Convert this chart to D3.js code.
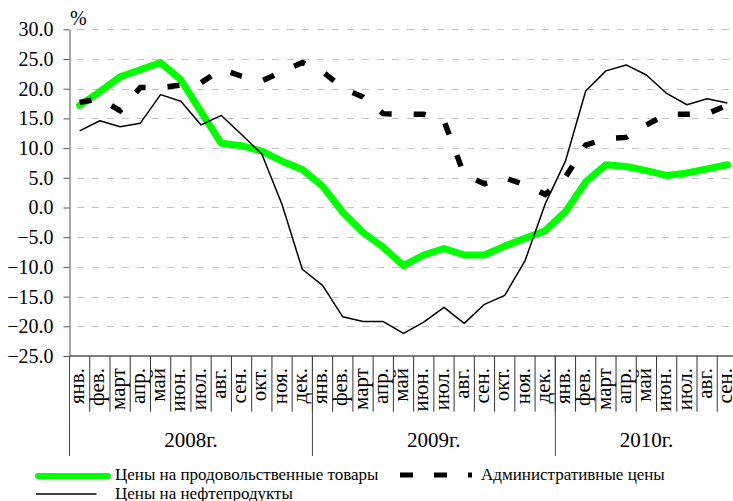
<!DOCTYPE html>
<html>
<head>
<meta charset="utf-8">
<script src="https://cdnjs.cloudflare.com/ajax/libs/d3/7.8.5/d3.min.js"></script>
<style>
	body { margin: 0; background: #fff; }
	svg { display: block; }
	svg text { font-family: "Liberation Serif", "Times New Roman", serif; }
</style>
</head>
<body>
<div id="chart"></div>
<script>
// месяцы янв.2008 - сен.2010
const monthLabels = [
	"янв.", "фев.", "март", "апр.", "май", "июн.", "июл.", "авг.", "сен.", "окт.", "ноя.", "дек.",
	"янв.", "фев.", "март", "апр.", "май", "июн.", "июл.", "авг.", "сен.", "окт.", "ноя.", "дек.",
	"янв.", "фев.", "март", "апр.", "май", "июн.", "июл.", "авг.", "сен."
];
const yearLabels = ["2008г.", "2009г.", "2010г."];
const yearMonths = [12, 12, 9];

const seriesNames = ["Цены на продовольственные товары", "Административные цены", "Цены на нефтепродукты"];

const foodPrices = [
	17.2, 19.5, 22.0, 23.2, 24.4, 21.5, 16.1, 10.8, 10.4, 9.5, 7.8, 6.4,
	3.6, -0.8, -4.2, -6.7, -9.8, -8.0, -6.9, -8.0, -8.0, -6.5, -5.2, -3.9,
	-0.7, 4.3, 7.2, 6.9, 6.2, 5.4, 5.8, 6.5, 7.2
];
const adminPrices = [
	17.7, 18.3, 16.3, 20.2, 20.2, 20.6, 21.0, 23.3, 22.1, 21.3, 22.9, 24.4,
	22.9, 20.1, 18.6, 15.8, 15.7, 15.7, 14.6, 5.5, 4.0, 5.0, 3.8, 2.2,
	5.1, 10.5, 11.6, 11.8, 13.9, 15.7, 15.7, 15.8, 17.2
];
const oilPrices = [
	12.9, 14.6, 13.6, 14.2, 19.0, 17.9, 13.9, 15.5, 12.3, 9.0, 0.5, -10.4,
	-13.1, -18.4, -19.2, -19.2, -21.2, -19.3, -16.8, -19.5, -16.3, -14.8, -9.0, 0.6,
	7.8, 19.6, 23.0, 24.0, 22.3, 19.2, 17.3, 18.3, 17.6
];
const yTicks = [-25, -20, -15, -10, -5, 0, 5, 10, 15, 20, 25, 30];

const serif = "'Liberation Serif', 'Times New Roman', serif";
const width = 733, height = 501;
const plotLeft = 69.5, plotRight = 737.5, plotTop = 29.3, plotBottom = 356;

const svg = d3.select("#chart").append("svg")
	.attr("width", width)
	.attr("height", height)
	.attr("font-family", serif);

const x = d3.scaleBand()
	.domain(d3.range(monthLabels.length))
	.range([plotLeft, plotRight])
	.padding(0);
const cx = (i) => x(i) + x.bandwidth() / 2;
const edge = (i) => x(i) ?? plotRight;

const y = d3.scaleLinear()
	.domain([-25, 30])
	.range([plotBottom, plotTop]);

// grid
svg.append("g").selectAll("line")
	.data(yTicks.filter((d) => d != -25)).enter()
	.append("line")
	.attr("x1", plotLeft)
	.attr("x2", plotRight)
	.attr("y1", (d) => Math.round(y(d)) + 0.5)
	.attr("y2", (d) => Math.round(y(d)) + 0.5)
	.attr("stroke", "#c4c4c4")
	.attr("stroke-width", 1)
	.attr("stroke-dasharray", "7,8")
	.attr("stroke-dashoffset", 7.5);

// y axis
const yAxis = svg.append("g")
	.attr("transform", "translate(" + plotLeft + ",0)")
	.call(d3.axisLeft(y)
		.tickValues(yTicks)
		.tickFormat(d3.format(".1f"))
		.tickSize(6)
		.tickSizeOuter(0)
		.tickPadding(10));
yAxis.attr("font-family", serif).attr("font-size", 20);
yAxis.selectAll("line").attr("stroke", "#555");
yAxis.select(".domain").attr("stroke", "#555");
yAxis.selectAll("text")
	.attr("font-family", serif)
	.attr("font-size", 20)
	.attr("fill", "#000");

svg.append("line")
	.attr("x1", plotLeft).attr("x2", plotLeft)
	.attr("y1", plotBottom).attr("y2", 456)
	.attr("stroke", "#555");

svg.append("text")
	.attr("x", 70)
	.attr("y", 25)
	.attr("font-family", serif)
	.attr("font-size", 20)
	.text("%");

// x axis
svg.append("line")
	.attr("x1", plotLeft).attr("x2", plotRight)
	.attr("y1", plotBottom).attr("y2", plotBottom)
	.attr("stroke", "#000");

svg.append("g").selectAll("line")
	.data(d3.range(monthLabels.length + 1)).enter()
	.append("line")
	.attr("x1", edge)
	.attr("x2", edge)
	.attr("y1", plotBottom)
	.attr("y2", 411.7)
	.attr("stroke", "#333");

svg.append("g").selectAll("text")
	.data(monthLabels).enter()
	.append("text")
	.attr("transform", (d, i) => "translate(" + cx(i) + ",368) rotate(-90)")
	.attr("text-anchor", "end")
	.attr("dy", "0.22em")
	.attr("font-family", serif)
	.attr("font-size", 21)
	.text((d) => d);

let yearStart = [0];
yearMonths.forEach((n, i) => yearStart.push(yearStart[i] + n));

svg.append("g").selectAll("line")
	.data(yearStart).enter()
	.append("line")
	.attr("x1", edge)
	.attr("x2", edge)
	.attr("y1", plotBottom)
	.attr("y2", 456)
	.attr("stroke", "#444");

svg.append("g").selectAll("text")
	.data(yearLabels).enter()
	.append("text")
	.attr("x", (d, i) => (edge(yearStart[i]) + edge(yearStart[i + 1])) / 2)
	.attr("y", 447)
	.attr("text-anchor", "middle")
	.attr("font-family", serif)
	.attr("font-size", 21)
	.text((d) => d);

// series
const line = d3.line()
	.x((d, i) => cx(i))
	.y((d) => y(d));

svg.append("path")
	.datum(foodPrices)
	.attr("fill", "none")
	.attr("stroke", "#00ff00")
	.attr("stroke-width", 7)
	.attr("stroke-linejoin", "round")
	.attr("stroke-linecap", "round")
	.attr("d", line);

svg.append("path")
	.datum(adminPrices)
	.attr("fill", "none")
	.attr("stroke", "#000")
	.attr("stroke-width", 5.5)
	.attr("stroke-dasharray", "12,22")
	.attr("d", line);

svg.append("path")
	.datum(oilPrices)
	.attr("fill", "none")
	.attr("stroke", "#000")
	.attr("stroke-width", 1.5)
	.attr("stroke-linejoin", "round")
	.attr("d", line);

// legend
const legend = svg.append("g")
	.attr("font-family", serif)
	.attr("font-size", 17);

legend.append("line")
	.attr("x1", 38).attr("x2", 108)
	.attr("y1", 476).attr("y2", 476)
	.attr("stroke", "#00ff00")
	.attr("stroke-width", 6)
	.attr("stroke-linecap", "round");
legend.append("text")
	.attr("x", 115).attr("y", 479.5)
	.text(seriesNames[0]);

legend.append("line")
	.attr("x1", 400).attr("x2", 472)
	.attr("y1", 475).attr("y2", 475)
	.attr("stroke", "#000")
	.attr("stroke-width", 5)
	.attr("stroke-dasharray", "13,21");
legend.append("text")
	.attr("x", 481).attr("y", 479.5)
	.text(seriesNames[1]);

legend.append("line")
	.attr("x1", 36).attr("x2", 96.5)
	.attr("y1", 494).attr("y2", 494)
	.attr("stroke", "#000")
	.attr("stroke-width", 1.5);
legend.append("text")
	.attr("x", 115).attr("y", 499)
	.text(seriesNames[2]);
</script>
</body>
</html>
